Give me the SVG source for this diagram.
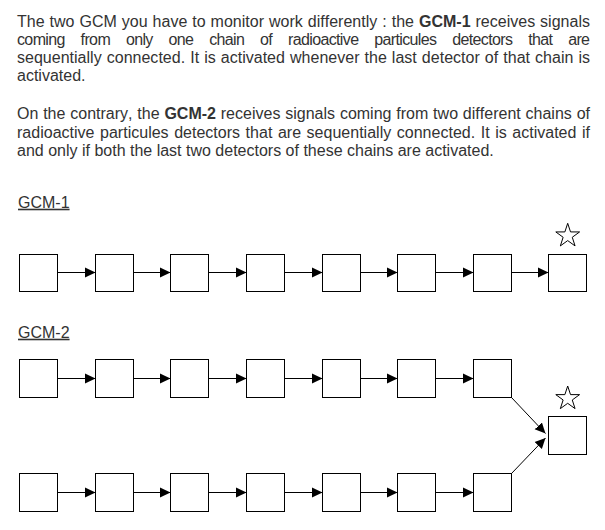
<svg xmlns="http://www.w3.org/2000/svg" xmlns:xlink="http://www.w3.org/1999/xlink" width="605" height="530" viewBox="0 0 605 530">
<style>
  .t { font-family: "Liberation Sans", Arial, sans-serif; font-size: 16px; fill: #333; font-kerning: none; }
  .b { font-weight: bold; }
  .lbl { text-decoration: underline; }
  .box { fill: #fff; stroke: #000; stroke-width: 1; }
  .con { stroke: #000; stroke-width: 1; fill: none; marker-end: url(#arr); }
  .star { fill: #fff; stroke: #000; stroke-width: 1; }
</style>
<defs>
  <marker id="arr" markerUnits="userSpaceOnUse" markerWidth="11" markerHeight="11" refX="10.5" refY="5" orient="auto" viewBox="0 0 11 10">
    <path d="M0,0 L10.5,5 L0,10 z" fill="#000"/>
  </marker>
  <polygon id="starshape" class="star" points="0,-12.5 2.82,-3.88 11.89,-3.86 4.57,1.48 7.35,10.11 0,4.8 -7.35,10.11 -4.57,1.48 -11.89,-3.86 -2.82,-3.88"/>
</defs>
<rect width="605" height="530" fill="#fff"/>

<g id="intro">
  <text class="t" x="17" y="26.6" textLength="573" lengthAdjust="spacing" word-spacing="0.5">The two GCM you have to monitor work differently : the <tspan class="b">GCM-1</tspan> receives signals</text>
  <text class="t" x="17" y="44.7" textLength="573" lengthAdjust="spacing" word-spacing="12">coming from only one chain of radioactive particules detectors that are</text>
  <text class="t" x="17" y="62.8" textLength="573" lengthAdjust="spacing" word-spacing="0.6">sequentially connected. It is activated whenever the last detector of that chain is</text>
  <text class="t" x="17" y="80.9">activated.</text>
  <text class="t" x="17" y="119.4" textLength="573" lengthAdjust="spacing" word-spacing="0.35">On the contrary, the <tspan class="b">GCM-2</tspan> receives signals coming from two different chains of</text>
  <text class="t" x="17" y="137.5" textLength="573" lengthAdjust="spacing" word-spacing="1.1">radioactive particules detectors that are sequentially connected. It is activated if</text>
  <text class="t" x="17" y="155.6">and only if both the last two detectors of these chains are activated.</text>
</g>

<g id="label-gcm1"><text class="t lbl" x="18" y="207.7">GCM-1</text></g>
<g id="label-gcm2"><text class="t lbl" x="18" y="337.7">GCM-2</text></g>

<!-- GCM-1 chain -->
<g id="g1-n1"><rect class="box" x="19.5" y="254.5" width="38" height="37"/></g>
<g id="g1-n2"><rect class="box" x="95.5" y="254.5" width="38" height="37"/></g>
<g id="g1-n3"><rect class="box" x="170.5" y="254.5" width="38" height="37"/></g>
<g id="g1-n4"><rect class="box" x="246.5" y="254.5" width="38" height="37"/></g>
<g id="g1-n5"><rect class="box" x="322.5" y="254.5" width="38" height="37"/></g>
<g id="g1-n6"><rect class="box" x="397.5" y="254.5" width="38" height="37"/></g>
<g id="g1-n7"><rect class="box" x="473.5" y="254.5" width="38" height="37"/></g>
<g id="g1-n8"><rect class="box" x="548.5" y="254.5" width="38" height="37"/><use xlink:href="#starshape" href="#starshape" x="567.7" y="235.8"/></g>

<!-- GCM-2 top chain -->
<g id="g2a-n1"><rect class="box" x="19.5" y="359.5" width="38" height="38"/></g>
<g id="g2a-n2"><rect class="box" x="95.5" y="359.5" width="38" height="38"/></g>
<g id="g2a-n3"><rect class="box" x="170.5" y="359.5" width="38" height="38"/></g>
<g id="g2a-n4"><rect class="box" x="246.5" y="359.5" width="38" height="38"/></g>
<g id="g2a-n5"><rect class="box" x="322.5" y="359.5" width="38" height="38"/></g>
<g id="g2a-n6"><rect class="box" x="397.5" y="359.5" width="38" height="38"/></g>
<g id="g2a-n7"><rect class="box" x="473.5" y="359.5" width="38" height="38"/></g>

<!-- GCM-2 bottom chain -->
<g id="g2b-n1"><rect class="box" x="19.5" y="473.5" width="38" height="38"/></g>
<g id="g2b-n2"><rect class="box" x="95.5" y="473.5" width="38" height="38"/></g>
<g id="g2b-n3"><rect class="box" x="170.5" y="473.5" width="38" height="38"/></g>
<g id="g2b-n4"><rect class="box" x="246.5" y="473.5" width="38" height="38"/></g>
<g id="g2b-n5"><rect class="box" x="322.5" y="473.5" width="38" height="38"/></g>
<g id="g2b-n6"><rect class="box" x="397.5" y="473.5" width="38" height="38"/></g>
<g id="g2b-n7"><rect class="box" x="473.5" y="473.5" width="38" height="38"/></g>

<!-- GCM-2 final -->
<g id="g2-final"><rect class="box" x="548.5" y="416.5" width="38" height="38"/><use xlink:href="#starshape" href="#starshape" x="567.7" y="398.5"/></g>

<g id="connectors">
  <line class="con" x1="57.5" y1="272.5" x2="95.5" y2="272.5"/>
  <line class="con" x1="133.5" y1="272.5" x2="170.5" y2="272.5"/>
  <line class="con" x1="208.5" y1="272.5" x2="246.5" y2="272.5"/>
  <line class="con" x1="284.5" y1="272.5" x2="322.5" y2="272.5"/>
  <line class="con" x1="360.5" y1="272.5" x2="397.5" y2="272.5"/>
  <line class="con" x1="435.5" y1="272.5" x2="473.5" y2="272.5"/>
  <line class="con" x1="511.5" y1="272.5" x2="548.5" y2="272.5"/>

  <line class="con" x1="57.5" y1="378.5" x2="95.5" y2="378.5"/>
  <line class="con" x1="133.5" y1="378.5" x2="170.5" y2="378.5"/>
  <line class="con" x1="208.5" y1="378.5" x2="246.5" y2="378.5"/>
  <line class="con" x1="284.5" y1="378.5" x2="322.5" y2="378.5"/>
  <line class="con" x1="360.5" y1="378.5" x2="397.5" y2="378.5"/>
  <line class="con" x1="435.5" y1="378.5" x2="473.5" y2="378.5"/>

  <line class="con" x1="57.5" y1="492.5" x2="95.5" y2="492.5"/>
  <line class="con" x1="133.5" y1="492.5" x2="170.5" y2="492.5"/>
  <line class="con" x1="208.5" y1="492.5" x2="246.5" y2="492.5"/>
  <line class="con" x1="284.5" y1="492.5" x2="322.5" y2="492.5"/>
  <line class="con" x1="360.5" y1="492.5" x2="397.5" y2="492.5"/>
  <line class="con" x1="435.5" y1="492.5" x2="473.5" y2="492.5"/>

  <line class="con" x1="511.5" y1="397.5" x2="545.5" y2="433.5"/>
  <line class="con" x1="511.5" y1="473.5" x2="545.5" y2="438"/>
</g>
</svg>
